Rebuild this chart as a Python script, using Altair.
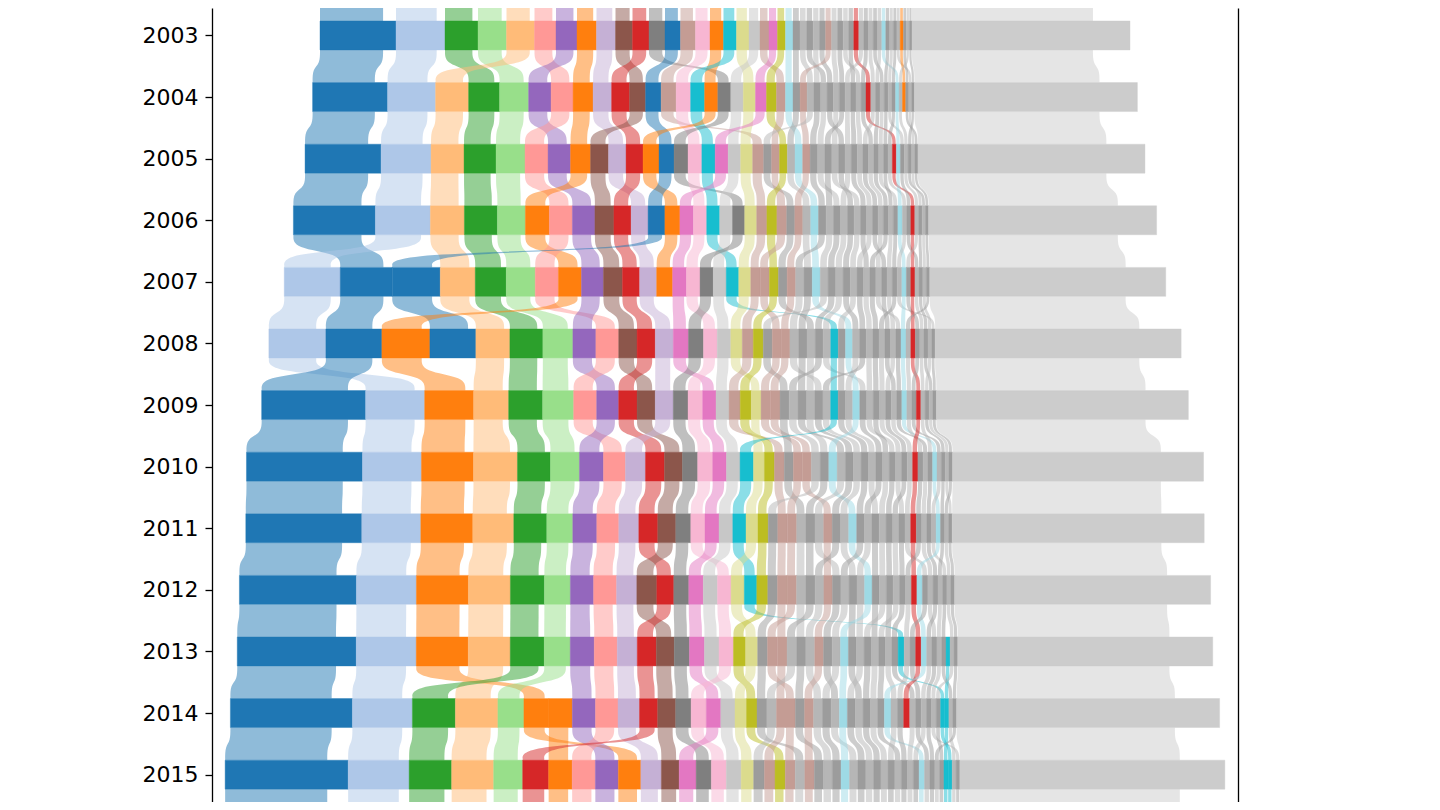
import altair as alt
import pandas as pd

alt.data_transformers.disable_max_rows()

years = [2003, 2004, 2005, 2006, 2007, 2008, 2009, 2010, 2011, 2012, 2013, 2014, 2015]

# widths of the highlighted series, one value per year (0 = not present that year)
blue_a = [76, 75, 76, 82, 52, 56, 104, 116, 116, 117, 119, 122, 123]
lblue_b = [49, 48, 50, 55, 56, 57, 59, 59, 59, 60, 60, 60, 61]
green_c = [33, 31, 32, 33, 31, 33, 34, 33, 33, 34, 34, 43, 42.5]
lgreen_d = [28.5, 29, 29, 28, 29, 30, 31, 29, 26, 26, 26, 26, 29]
lorange_e = [28, 33, 33, 34, 35, 34, 35, 44, 41, 42, 42, 42.5, 42]
lred_f = [21.5, 22, 23, 23, 23.2, 22.8, 23, 22, 22, 23, 23, 22.5, 23.2]
purple_g = [21, 22.5, 22.5, 22.5, 22, 23, 22, 24, 24, 23.2, 24, 23.2, 23]
orange_h = [19.5, 20, 20, 24, 23, 48, 49, 52, 52, 52, 52, 25, 22.5]
lpurple_i = [19, 18.5, 17.5, 17, 17, 18, 18, 20, 20, 20.2, 20, 21.5, 20.5]
brown_j = [17, 16, 18, 19, 19, 18.4, 18.2, 18, 18, 20, 18, 18, 17.8]
red_k = [16.5, 18, 17, 17.2, 17.2, 18.2, 18.4, 19, 19, 17, 19, 18.2, 26]
grey_l = [16, 13, 14, 12.2, 13.2, 15, 14.8, 15.2, 15, 15, 15.2, 15.4, 15.2]
blue_m = [15.5, 15.5, 15, 16.8, 48, 46, 0, 0, 0, 0, 0, 0, 0]
lbrown_n = [15, 15, 11, 10.2, 9.5, 11, 11.2, 9.8, 9.5, 9.6, 9.7, 9.5, 10.6]
lpink_o = [14.5, 14.5, 13.8, 13.3, 13.6, 13.8, 14.6, 15, 14.2, 13.6, 14.4, 15.2, 15]
orange_p = [13.5, 13.2, 16, 15, 16, 0, 0, 0, 0, 0, 0, 0, 0]
orange_p2 = [0, 0, 0, 0, 0, 0, 0, 0, 0, 0, 0, 23.4, 23.5]
cyan_q = [13, 14, 13.3, 13, 12.5, 7.5, 7.5, 13.4, 13.2, 12.5, 6, 4.2, 4]
lolive_r = [12.5, 12.2, 12, 12, 12, 11.5, 9.8, 11, 12, 13.2, 12, 11.5, 12.5]
lgrey_s = [11, 12.5, 12.5, 12.8, 13, 13.5, 13, 13.6, 13.8, 14.2, 14.6, 14.2, 14.8]
lbrown_t = [9, 9, 7.9, 9.8, 9.2, 8.9, 9.6, 9.0, 9.4, 9.5, 9.8, 9.4, 10]
pink_u = [8.5, 11, 13, 13.5, 13.8, 15.2, 13.4, 13.8, 14, 14.5, 15, 14.5, 17]
olive_v = [8, 10, 7.8, 10, 9, 10, 11, 10, 10.2, 11, 12.2, 10.5, 10.2]
lbrown_x = [6, 7, 7.5, 8.0, 8.5, 8.75, 9.4, 8.95, 8.5, 8.5, 8.8, 9, 9.5]
lcyan_w = [7.5, 7.5, 7.6, 7.8, 8, 7, 7, 8.3, 8, 7.5, 8, 8, 8.5]
red_z1 = [5, 4.8, 4, 4, 4.2, 4.5, 4.5, 5.3, 5.6, 5.5, 5.5, 6, 0]
orange_z2 = [3.2, 3.2, 0, 0, 0, 0, 0, 0, 0, 0, 0, 0, 0]
lcyan_w2 = [4, 3.5, 4, 4.5, 4.5, 5, 5, 4.4, 4.4, 5.5, 5.5, 6.6, 5.5]
cyan_z3 = [0, 0, 0, 0, 0, 0, 0, 0, 0, 0, 4, 4.1, 4.2]

# small series drawn in grey
grey_01 = [7.0, 7.1, 7.7, 7.9, 8.2, 8.4, 8.6, 8.3, 8.7, 8.5, 8.6, 8.3, 8.3]
grey_02 = [6.7, 6.9, 8.0, 8.1, 8.7, 8.2, 8.3, 8.6, 9.0, 9.1, 9.6, 9.6, 10.8]
grey_03 = [6.5, 6.4, 7.2, 7.1, 7.6, 7.9, 8.9, 8.9, 9.6, 9.7, 9.9, 9.9, 9.6]
grey_04 = [6.3, 6.7, 7.5, 7.6, 8.4, 8.7, 8.0, 8.0, 8.4, 8.8, 8.9, 8.9, 8.9]
grey_05 = [6.1, 6.2, 6.5, 6.6, 7.1, 7.0, 7.2, 7.2, 7.2, 7.3, 7.1, 7.1, 7.1]
grey_06 = [5.9, 6.0, 6.7, 6.4, 6.8, 7.3, 7.4, 7.4, 7.8, 8.2, 8.3, 8.6, 8.6]
grey_07 = [5.7, 5.8, 7.0, 7.4, 7.9, 9.0, 9.1, 9.1, 9.3, 9.4, 9.2, 9.2, 9.2]
grey_08 = [5.4, 5.1, 5.7, 5.9, 6.5, 6.8, 7.7, 7.7, 8.1, 7.9, 8.0, 7.7, 7.7]
grey_09 = [5.2, 5.3, 6.0, 6.1, 6.3, 6.5, 6.6, 6.3, 6.6, 6.7, 6.5, 6.5, 6.8]
grey_10 = [5.0, 5.6, 6.2, 6.9, 7.4, 7.6, 6.9, 6.9, 7.5, 7.6, 7.7, 8.0, 8.0]
grey_11 = [4.8, 4.9, 5.3, 5.3, 5.7, 5.1, 5.2, 4.9, 5.1, 5.2, 5.0, 5.0, 5.0]
grey_12 = [4.6, 4.7, 5.5, 5.6, 5.5, 5.6, 5.4, 5.4, 5.7, 5.5, 5.6, 5.6, 5.3]
grey_13 = [4.4, 4.2, 4.8, 4.6, 4.9, 5.9, 6.0, 6.0, 6.0, 6.1, 6.2, 5.9, 5.9]
grey_14 = [4.2, 4.5, 5.0, 5.1, 6.0, 6.2, 6.3, 6.6, 6.9, 7.0, 7.4, 7.4, 7.4]
grey_15 = [3.9, 4.0, 4.5, 4.8, 5.2, 5.4, 5.7, 5.7, 6.3, 6.4, 6.8, 6.8, 6.5]
grey_16 = [3.7, 3.8, 4.0, 4.1, 4.1, 4.2, 4.3, 4.6, 4.8, 4.9, 5.3, 5.3, 5.6]
grey_17 = [3.5, 3.6, 4.3, 4.3, 4.7, 3.4, 3.5, 3.5, 3.9, 4.0, 4.0, 4.4, 4.4]
grey_18 = [3.3, 2.9, 3.3, 3.6, 3.8, 4.0, 3.7, 3.7, 3.6, 3.7, 3.7, 3.7, 4.7]
grey_19 = [3.1, 3.1, 3.0, 3.1, 3.3, 4.8, 4.9, 5.2, 5.4, 5.8, 5.9, 6.2, 6.2]
grey_20 = [2.9, 3.4, 3.8, 3.8, 4.4, 4.5, 4.6, 4.3, 4.5, 4.3, 4.4, 4.0, 4.0]
grey_21 = [2.6, 2.7, 3.5, 3.3, 3.6, 3.7, 4.0, 4.0, 4.2, 4.6, 4.7, 4.7, 3.7]

# everything else, always drawn last
rest = [218, 223, 227, 228, 236, 246, 252, 251, 252, 256, 255, 263, 265]

named_series = [
    ("blue_a", blue_a, "#1f77b4"), ("lblue_b", lblue_b, "#aec7e8"),
    ("green_c", green_c, "#2ca02c"), ("lgreen_d", lgreen_d, "#98df8a"),
    ("lorange_e", lorange_e, "#ffbb78"), ("lred_f", lred_f, "#ff9896"),
    ("purple_g", purple_g, "#9467bd"), ("orange_h", orange_h, "#ff7f0e"),
    ("lpurple_i", lpurple_i, "#c5b0d5"), ("brown_j", brown_j, "#8c564b"),
    ("red_k", red_k, "#d62728"), ("grey_l", grey_l, "#7f7f7f"),
    ("blue_m", blue_m, "#1f77b4"), ("lbrown_n", lbrown_n, "#c49c94"),
    ("lpink_o", lpink_o, "#f7b6d2"), ("orange_p", orange_p, "#ff7f0e"),
    ("orange_p2", orange_p2, "#ff7f0e"), ("cyan_q", cyan_q, "#17becf"),
    ("lolive_r", lolive_r, "#dbdb8d"), ("lgrey_s", lgrey_s, "#c7c7c7"),
    ("lbrown_t", lbrown_t, "#c49c94"), ("pink_u", pink_u, "#e377c2"),
    ("olive_v", olive_v, "#bcbd22"), ("lbrown_x", lbrown_x, "#c49c94"),
    ("lcyan_w", lcyan_w, "#9edae5"), ("red_z1", red_z1, "#d62728"),
    ("orange_z2", orange_z2, "#ff7f0e"), ("lcyan_w2", lcyan_w2, "#9edae5"),
    ("cyan_z3", cyan_z3, "#17becf"),
]
grey_series = [grey_01, grey_02, grey_03, grey_04, grey_05, grey_06, grey_07,
               grey_08, grey_09, grey_10, grey_11, grey_12, grey_13, grey_14,
               grey_15, grey_16, grey_17, grey_18, grey_19, grey_20, grey_21]

GREY_DARK = "#9c9c9c"
GREY_LIGHT = "#b6b6b6"
REST_COLOR = "#cccccc"
HALF = 0.235        # half the bar thickness, in years
RIBBON_SHARE = 0.83  # ribbons are left-aligned and a bit narrower than their bars
Y_DOMAIN = [2002.554, 2015.444]

# each year: segments side by side, largest first, the whole row centred on 0
segments = []
for i, year in enumerate(years):
    items = []
    for order, (name, vals, color) in enumerate(named_series):
        if vals[i] > 0:
            items.append((name, vals[i], color, order))
    for k, vals in enumerate(grey_series):
        items.append((f"grey_{k + 1:02d}", vals[i], None, 100 + k))
    items.sort(key=lambda t: (-t[1], t[3]))
    items.append(("rest", rest[i], REST_COLOR, 999))
    left = -sum(t[1] for t in items) / 2
    shade = 0
    for name, value, color, order in items:
        if color is None:
            color = GREY_DARK if shade % 2 == 0 else GREY_LIGHT
            shade += 1
        segments.append({"year": year, "name": name, "order": order,
                         "x0": left, "x1": left + value, "color": color,
                         "top": year - HALF, "bottom": year + HALF})
        left += value
bars = pd.DataFrame(segments)


def ribbon_point(rid, yy, seg, color):
    width = (seg["x1"] - seg["x0"]) * RIBBON_SHARE
    return {"rid": rid, "y": yy, "x0": seg["x0"], "x1": seg["x0"] + width, "color": color}


# ribbons joining the same series in consecutive years
flows = []
by_year = {y: bars[bars.year == y].set_index("name") for y in years}
for a, b in zip(years[:-1], years[1:]):
    upper, lower = by_year[a], by_year[b]
    for name in upper.index:
        if name not in lower.index:
            continue
        s, t = upper.loc[name], lower.loc[name]
        y0, y1 = a + HALF, b - HALF
        gap = y1 - y0
        for yy, src in ((y0, s), (y0 + 0.42 * gap, s), (y0 + 0.58 * gap, t), (y1, t)):
            flows.append(ribbon_point(f"{name}-{a}", yy, src, s["color"]))

# stubs running off the top and bottom of the plot
for name, s in by_year[years[0]].iterrows():
    for yy in (Y_DOMAIN[0] - 0.2, years[0] - HALF):
        flows.append(ribbon_point(f"{name}-top", yy, s, s["color"]))
for name, s in by_year[years[-1]].iterrows():
    for yy in (years[-1] + HALF, Y_DOMAIN[1] + 0.2):
        flows.append(ribbon_point(f"{name}-bottom", yy, s, s["color"]))
flow_df = pd.DataFrame(flows)

y_scale = alt.Scale(domain=Y_DOMAIN, reverse=True, nice=False, zero=False)
x_scale = alt.Scale(domain=[-513, 513], nice=False, zero=False)

ribbons = alt.Chart(flow_df).mark_area(
    orient="horizontal", interpolate="basis", opacity=0.5, clip=True
).encode(
    y=alt.Y("y:Q", scale=y_scale, axis=alt.Axis(
        values=years, format="d", title=None, grid=False,
        labelFont="DejaVu Sans", labelFontSize=22, labelColor="black",
        tickColor="black", tickSize=7, tickWidth=1.3,
        domainColor="black", domainWidth=1.3, labelPadding=7)),
    x=alt.X("x0:Q", scale=x_scale, axis=None, stack=None),
    x2="x1:Q",
    color=alt.Color("color:N", scale=None),
    detail="rid:N",
)

blocks = alt.Chart(bars).mark_rect(strokeWidth=0.4).encode(
    y=alt.Y("top:Q", scale=y_scale, axis=alt.Axis(
        orient="right", labels=False, ticks=False, grid=False, title=None,
        domainColor="black", domainWidth=1.3)),
    y2="bottom:Q",
    x=alt.X("x0:Q", scale=x_scale, axis=None),
    x2="x1:Q",
    color=alt.Color("color:N", scale=None),
    stroke=alt.Stroke("color:N", scale=None),
)

chart = alt.layer(ribbons, blocks).resolve_axis(y="independent").properties(
    width=1026,
    height=794,
    padding={"left": 204, "top": 0, "right": 10, "bottom": 0},
    autosize=alt.AutoSizeParams(type="none"),
).configure_view(stroke=None)

chart.save("out.html", embed_options={"renderer": "svg", "actions": False})
